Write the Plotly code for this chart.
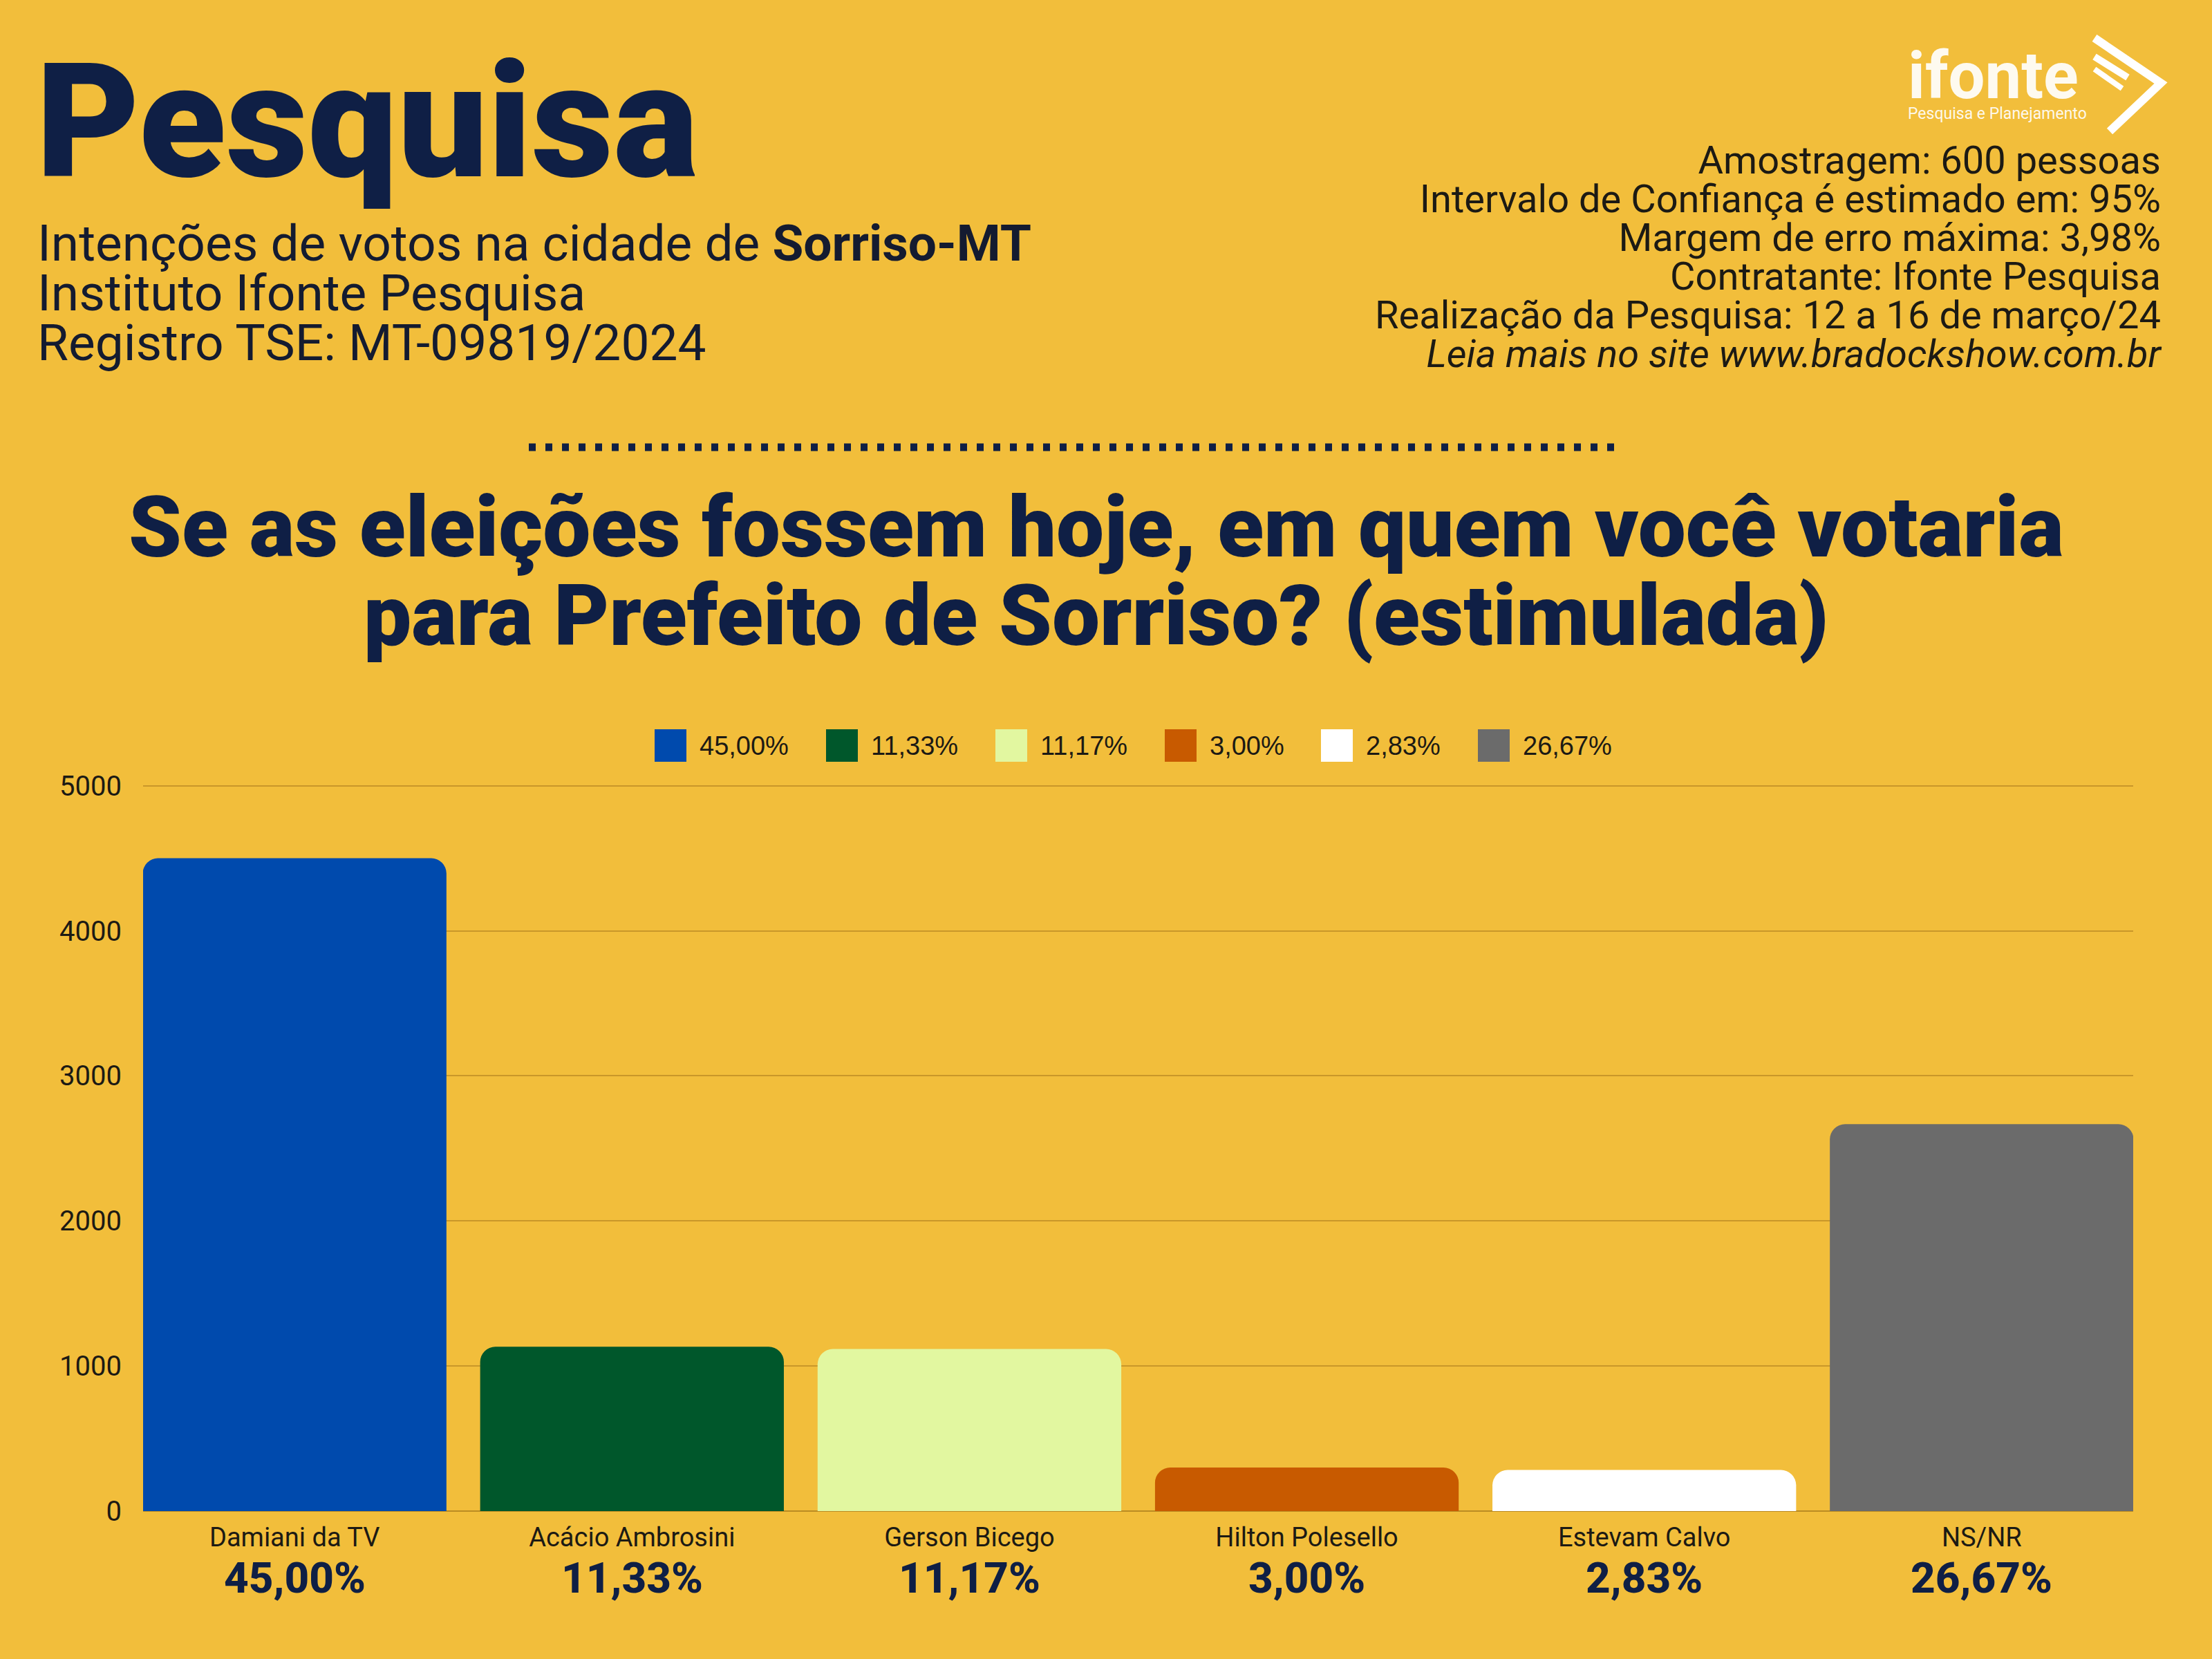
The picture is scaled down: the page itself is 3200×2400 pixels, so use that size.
import plotly.graph_objects as go

# ---- data ----
candidates = ["Damiani da TV", "Acácio Ambrosini", "Gerson Bicego",
              "Hilton Polesello", "Estevam Calvo", "NS/NR"]
votes = [4500, 1133, 1117, 300, 283, 2667]
pct_labels = ["45,00%", "11,33%", "11,17%", "3,00%", "2,83%", "26,67%"]
bar_colors = ["#004AAD", "#00572B", "#E2F7A0", "#C85A00", "#FFFFFF", "#6B6B6B"]
y_ticks = [0, 1000, 2000, 3000, 4000, 5000]

info_lines = [
    "Amostragem: 600 pessoas",
    "Intervalo de Confiança é estimado em: 95%",
    "Margem de erro máxima: 3,98%",
    "Contratante: Ifonte Pesquisa",
    "Realização da Pesquisa: 12 a 16 de março/24",
    "<i>Leia mais no site www.bradockshow.com.br</i>",
]
sub_lines = [
    "Intenções de votos na cidade de <b>Sorriso-MT</b>",
    "Instituto Ifonte Pesquisa",
    "Registro TSE: MT-09819/2024",
]
question_lines = [
    "Se as eleições fossem hoje, em quem você votaria",
    "para Prefeito de Sorriso? (estimulada)",
]

# ---- layout geometry ----
W, H = 3200, 2400
ML, MR, MT, MB = 207, 114, 1135, 214
PW, PH = W - ML - MR, H - MT - MB
BG = "#F2BE3B"
NAVY = "#0F1F45"
INK = "#1C1A14"
FONT = "Roboto"


def px(x):
    return (x - ML) / PW


def py(y):
    return (H - MB - y) / PH


def block(lines, size, spacing):
    """Join lines; base font sets line spacing (1.3em), spans set the visible size."""
    base = spacing / 1.3
    body = "<br>".join(f"<span style='font-size:{size}px'>{t}</span>" for t in lines)
    return body, base


fig = go.Figure()
for name, v, c in zip(candidates, votes, bar_colors):
    fig.add_trace(go.Bar(x=[name], y=[v], marker=dict(color=c, line=dict(width=0), cornerradius=22),
                         showlegend=False, hoverinfo="skip"))

ann = []
shapes = []

# percent labels under categories
for name, p in zip(candidates, pct_labels):
    ann.append(dict(x=name, xref="x", y=py(2282), yref="paper", text=p,
                    showarrow=False, yanchor="middle", xanchor="center",
                    font=dict(family=FONT, size=62, color=NAVY, weight=800)))

# custom legend (large swatches)
legend_start_px = [947, 1195, 1440, 1685, 1911, 2138]
for x0, c, p in zip(legend_start_px, bar_colors, pct_labels):
    shapes.append(dict(type="rect", xref="paper", yref="paper",
                       x0=px(x0), x1=px(x0 + 46), y0=py(1102), y1=py(1055),
                       fillcolor=c, line=dict(width=0)))
    ann.append(dict(x=px(x0 + 63), y=py(1079), xref="paper", yref="paper", text=p,
                    showarrow=False, xanchor="left", yanchor="middle",
                    font=dict(family="Liberation Sans", size=38, color=INK)))

# big title
ann.append(dict(x=px(50), y=py(176), xref="paper", yref="paper", text="Pesquisa",
                showarrow=False, xanchor="left", yanchor="middle",
                font=dict(family=FONT, size=231, color=NAVY, weight=900)))

# subtitle block
txt, base = block(sub_lines, 73, 72)
ann.append(dict(x=px(52), y=py(424), xref="paper", yref="paper", text=txt,
                showarrow=False, xanchor="left", yanchor="middle", align="left",
                font=dict(family=FONT, size=base, color="#141B30")))

# info block right
txt, base = block(info_lines, 56, 56)
ann.append(dict(x=px(3130), y=py(372), xref="paper", yref="paper", text=txt,
                showarrow=False, xanchor="right", yanchor="middle", align="right",
                font=dict(family=FONT, size=base, color=INK)))

# logo
ann.append(dict(x=px(2758), y=py(180), xref="paper", yref="paper",
                text="<span style='font-size:94px;font-weight:bold'>ifonte</span><br>Pesquisa e Planejamento",
                showarrow=False, xanchor="left", yanchor="bottom", align="left",
                font=dict(family=FONT, size=23, color="rgba(255,255,255,0.92)")))


def path_px(pts):
    return "M " + " L ".join(f"{px(a):.5f},{py(b):.5f}" for a, b in pts)


shapes.append(dict(type="path", xref="paper", yref="paper",
                   path=path_px([(3030, 55), (3126, 120), (3052, 190)]),
                   line=dict(color="white", width=12)))
shapes.append(dict(type="path", xref="paper", yref="paper",
                   path=path_px([(3030, 82), (3078, 112)]),
                   line=dict(color="white", width=10)))
shapes.append(dict(type="path", xref="paper", yref="paper",
                   path=path_px([(3030, 100), (3070, 128)]),
                   line=dict(color="white", width=8)))

# dotted separator
shapes.append(dict(type="line", xref="paper", yref="paper",
                   x0=px(765), x1=px(2343), y0=py(647), y1=py(647),
                   line=dict(color=NAVY, width=11, dash="10px,14px")))

# question title
txt, base = block(question_lines, 123, 128)
ann.append(dict(x=px(1586), y=py(827), xref="paper", yref="paper", text=txt,
                showarrow=False, xanchor="center", yanchor="middle", align="center",
                font=dict(family=FONT, size=base, color=NAVY, weight=900)))

fig.update_layout(
    width=W, height=H,
    margin=dict(l=ML, r=MR, t=MT, b=MB, pad=0),
    paper_bgcolor=BG, plot_bgcolor=BG,
    barmode="overlay", bargap=0.1,
    showlegend=False,
    annotations=ann, shapes=shapes,
    font=dict(family=FONT, color=INK),
)
fig.update_xaxes(range=[-0.449, 5.449], showgrid=False, zeroline=False, showline=False,
                 ticks="", tickfont=dict(family=FONT, size=38, color=INK),
                 ticklabelstandoff=12)
fig.update_yaxes(range=[0, 5008], tickvals=y_ticks, showgrid=True,
                 gridcolor="rgba(150,105,20,0.45)", gridwidth=2,
                 zeroline=True, zerolinecolor="rgba(150,105,20,0.6)", zerolinewidth=2,
                 showline=False, ticks="", tickfont=dict(family=FONT, size=40, color=INK),
                 ticklabelstandoff=30)

fig.write_html("out.html")
